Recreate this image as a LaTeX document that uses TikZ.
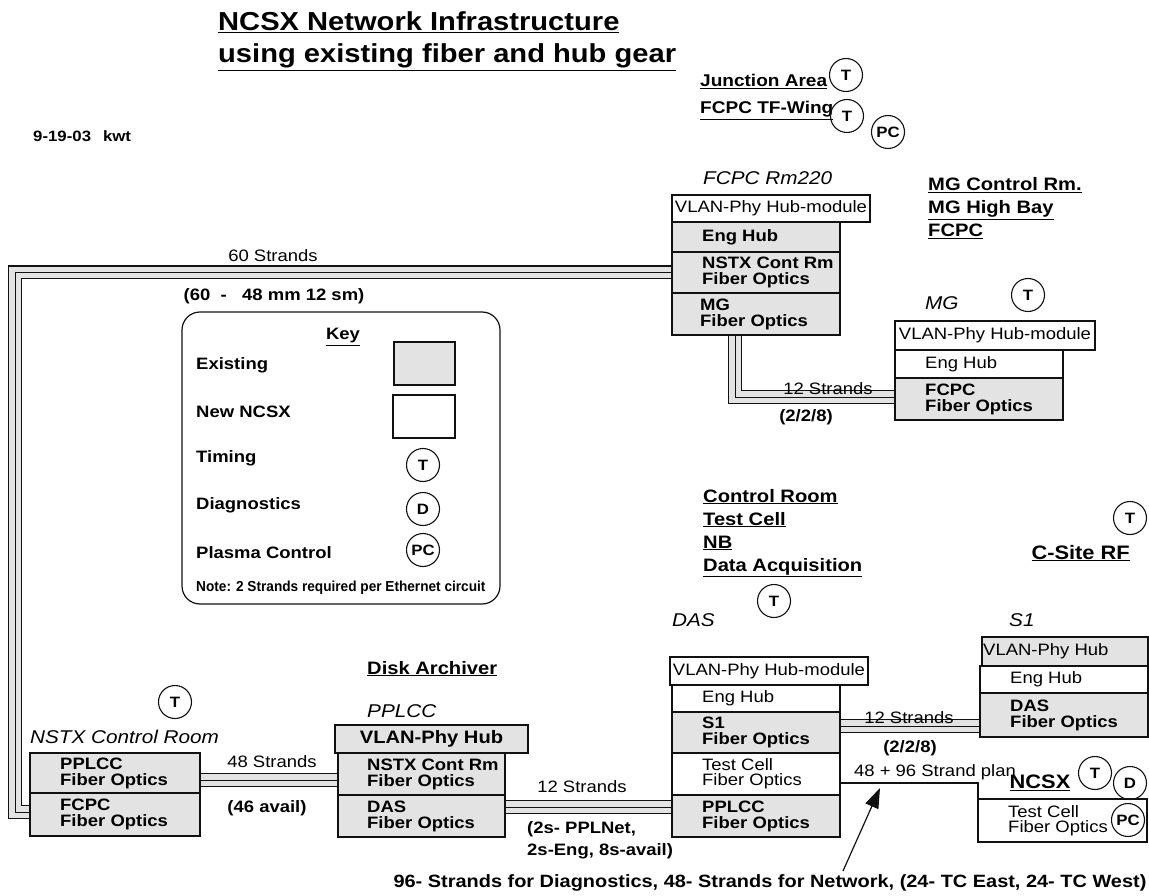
\documentclass[tikz,border=0pt]{standalone}
\usepackage{fontspec}
\setmainfont[FakeStretch=1.12]{Liberation Sans}
\usepackage{graphicx}
\usepackage{tikz}
\usetikzlibrary{arrows.meta,positioning,backgrounds}
\definecolor{NcsxInk}{HTML}{111111}
\definecolor{NcsxShade}{HTML}{E3E3E3}
\newcommand{\bodysize}{\fontsize{16.5}{16}\selectfont}
\newcommand{\thinsize}{\fontsize{16.5}{15}\selectfont}
\newcommand{\placesize}{\fontsize{18.5}{20}\selectfont}
\newcommand{\headsize}{\fontsize{18}{23}\selectfont}

\begin{document}
\begin{tikzpicture}[x=1pt,y=-1pt,
    every node/.style={inner sep=0pt},
    rowbox/.style={draw=NcsxInk,line width=1.2pt,outer sep=0pt,anchor=north west},
    existbox/.style={rowbox,fill=NcsxShade},
    newbox/.style={rowbox,fill=white},
    rowtxt/.style={align=left,font=\bodysize\bfseries},
    thintxt/.style={align=left,font=\thinsize},
    place/.style={anchor=west,font=\placesize\itshape},
    site/.style={anchor=base west,font=\headsize\bfseries},
    keytxt/.style={anchor=west,font=\bodysize\bfseries},
    strands/.style={font=\bodysize},
    mix/.style={font=\bodysize\bfseries},
    sig/.style={circle,draw=NcsxInk,line width=1.1pt,minimum size=33pt,
      font=\fontsize{15}{15}\selectfont\bfseries},
    cable/.style={line width=14pt,draw=NcsxInk,
      postaction={draw=NcsxShade,line width=11.4pt},
      postaction={draw=NcsxInk,line width=0.9pt}},
    wire/.style={line width=1.2pt,draw=NcsxInk},
    arrow/.style={-{Triangle[length=20pt,width=14pt]},line width=1.2pt,draw=NcsxInk}
  ]
  \useasboundingbox (0,0) rectangle (1149,896);

  % title block
  \node[anchor=base west,font=\fontsize{26}{28}\selectfont\bfseries] (title) at (218,31)
    {\underline{NCSX Network Infrastructure}};
  \node[anchor=base west,font=\fontsize{26}{28}\selectfont\bfseries] (subtitle) at (218,63)
    {\underline{using existing fiber and hub gear}};
  \node[anchor=base west,font=\fontsize{15}{15}\selectfont\bfseries] (date) at (33,142)
    {9-19-03\hspace{0.8em}kwt};

  % FCPC Rm220
  \node[place] (rmplace) at (703,178) {FCPC Rm220};
  \node[newbox,minimum width=198pt,minimum height=27pt,font=\thinsize] (rmvlan) at (672,195) {VLAN-Phy Hub-module};
  \node[existbox,minimum width=168pt,minimum height=30pt,below=0pt of rmvlan.south west,anchor=north west] (rmeng) {};
  \node[existbox,minimum width=168pt,minimum height=41pt,below=0pt of rmeng.south west,anchor=north west] (rmnstx) {};
  \node[existbox,minimum width=168pt,minimum height=42pt,below=0pt of rmnstx.south west,anchor=north west] (rmmg) {};
  \node[rowtxt,right=30pt of rmeng.west] (rmengtxt) {Eng Hub};
  \node[rowtxt,right=30pt of rmnstx.west] (rmnstxtxt) {NSTX Cont Rm\\Fiber Optics};
  \node[rowtxt,right=28pt of rmmg.west] (rmmgtxt) {MG\\Fiber Optics};

  % MG
  \node[place] (mgplace) at (925,303) {MG};
  \node[sig] (mgt) at (1028,295) {T};
  \node[newbox,minimum width=200pt,minimum height=29pt,font=\thinsize] (mgvlan) at (895,321) {VLAN-Phy Hub-module};
  \node[newbox,minimum width=168pt,minimum height=28pt,below=0pt of mgvlan.south west,anchor=north west] (mgeng) {};
  \node[existbox,minimum width=168pt,minimum height=42pt,below=0pt of mgeng.south west,anchor=north west] (mgfcpc) {};
  \node[thintxt,right=30pt of mgeng.west] (mgengtxt) {Eng Hub};
  \node[rowtxt,right=30pt of mgfcpc.west] (mgfcpctxt) {FCPC\\Fiber Optics};

  % NSTX control room
  \node[sig] (crt) at (175,702) {T};
  \node[place] (crplace) at (30,737) {NSTX Control Room};
  \node[existbox,minimum width=170pt,minimum height=40pt] (crpplcc) at (30,753) {};
  \node[existbox,minimum width=170pt,minimum height=43pt,below=0pt of crpplcc.south west,anchor=north west] (crfcpc) {};
  \node[rowtxt,right=30pt of crpplcc.west] (crpplcctxt) {PPLCC\\Fiber Optics};
  \node[rowtxt,right=30pt of crfcpc.west] (crfcpctxt) {FCPC\\Fiber Optics};

  % PPLCC disk archiver
  \node[site] (diskarch) at (367,674) {\underline{Disk Archiver}};
  \node[place] (ppplace) at (367,711) {PPLCC};
  \node[existbox,minimum width=193pt,minimum height=28pt,font=\fontsize{18}{18}\selectfont\bfseries] (ppvlan) at (335,725) {VLAN-Phy Hub};
  \node[existbox,minimum width=167pt,minimum height=42pt,below=0pt of ppvlan.south west,anchor=north west,xshift=3pt] (ppnstx) {};
  \node[existbox,minimum width=167pt,minimum height=42pt,below=0pt of ppnstx.south west,anchor=north west] (ppdas) {};
  \node[rowtxt,right=29pt of ppnstx.west] (ppnstxtxt) {NSTX Cont Rm\\Fiber Optics};
  \node[rowtxt,right=29pt of ppdas.west] (ppdastxt) {DAS\\Fiber Optics};

  % DAS
  \node[site] (ctlroom) at (703,502) {\underline{Control Room}};
  \node[site] (testcell) at (703,525) {\underline{Test Cell}};
  \node[site] (nbsite) at (703,548) {\underline{NB}};
  \node[site] (daqsite) at (703,571) {\underline{Data Acquisition}};
  \node[sig] (daqt) at (774,601) {T};
  \node[place] (dasplace) at (672,620) {DAS};
  \node[newbox,minimum width=198pt,minimum height=28pt,font=\thinsize] (dasvlan) at (670,657) {VLAN-Phy Hub-module};
  \node[newbox,minimum width=168pt,minimum height=27pt,below=0pt of dasvlan.south west,anchor=north west,xshift=2pt] (daseng) {};
  \node[existbox,minimum width=168pt,minimum height=41pt,below=0pt of daseng.south west,anchor=north west] (dass1) {};
  \node[newbox,minimum width=168pt,minimum height=42pt,below=0pt of dass1.south west,anchor=north west] (dastc) {};
  \node[existbox,minimum width=168pt,minimum height=42pt,below=0pt of dastc.south west,anchor=north west] (daspplcc) {};
  \node[thintxt,right=30pt of daseng.west] (dasengtxt) {Eng Hub};
  \node[rowtxt,right=30pt of dass1.west] (dass1txt) {S1\\Fiber Optics};
  \node[thintxt,right=30pt of dastc.west] (dastctxt) {Test Cell\\Fiber Optics};
  \node[rowtxt,right=30pt of daspplcc.west] (daspplcctxt) {PPLCC\\Fiber Optics};

  % S1 and C-Site RF
  \node[sig] (rft) at (1130,518) {T};
  \node[site,anchor=base east,font=\fontsize{19.5}{23}\selectfont\bfseries] (rfsite) at (1130,559) {\underline{C-Site RF}};
  \node[place] (s1place) at (1009,620) {S1};
  \node[existbox,minimum width=166pt,minimum height=29pt] (s1vlan) at (982,637) {};
  \node[newbox,minimum width=168pt,minimum height=27pt,below=0pt of s1vlan.south west,anchor=north west,xshift=-2pt] (s1eng) {};
  \node[existbox,minimum width=168pt,minimum height=44pt,below=0pt of s1eng.south west,anchor=north west] (s1das) {};
  \node[thintxt,right=1pt of s1vlan.west] (s1vlantxt) {VLAN-Phy Hub};
  \node[thintxt,right=30pt of s1eng.west] (s1engtxt) {Eng Hub};
  \node[rowtxt,right=30pt of s1das.west] (s1dastxt) {DAS\\Fiber Optics};

  % NCSX test cell
  \node[font=\fontsize{19.5}{20}\selectfont\bfseries] (ncsxsite) at (1040,783) {\underline{NCSX}};
  \node[newbox,minimum width=169pt,minimum height=43pt] (ncsxtc) at (978,799) {};
  \node[thintxt,right=30pt of ncsxtc.west] (ncsxtctxt) {Test Cell\\Fiber Optics};
  \node[sig] (ncsxt) at (1095,773) {T};
  \node[sig] (ncsxd) at (1130,783) {D};
  \node[sig] (ncsxpc) at (1128,820) {PC};

  % junction area and MG sites
  \node[site,font=\fontsize{17}{23}\selectfont\bfseries] (junction) at (700,87) {\underline{Junction Area}};
  \node[site,font=\fontsize{17}{23}\selectfont\bfseries] (tfwing) at (700,114) {\underline{FCPC TF-Wing}};
  \node[sig] (junctiont) at (846,75) {T};
  \node[sig] (tfwingt) at (847,116) {T};
  \node[sig] (tfwingpc) at (888,132) {PC};
  \node[site] (mgctl) at (928,191) {\underline{MG Control Rm.}};
  \node[site] (mgbay) at (928,214) {\underline{MG High Bay}};
  \node[site] (mgfc) at (928,237) {\underline{FCPC}};

  % key
  \node[rowbox,rounded corners=18pt,minimum width=318pt,minimum height=292pt,fill=white] (keybox) at (182,312) {};
  \node[mix] (keyhead) at (343,337) {\underline{Key}};
  \node[keytxt] (keyexist) at (196,365) {Existing};
  \node[keytxt] (keyncsx) at (196,412) {New NCSX};
  \node[keytxt] (keytiming) at (196,458) {Timing};
  \node[keytxt] (keydiag) at (196,505) {Diagnostics};
  \node[keytxt] (keyplasma) at (196,553) {Plasma Control};
  \node[existbox,minimum width=61pt,minimum height=43pt] (keyold) at (394,342) {};
  \node[newbox,minimum width=62pt,minimum height=43pt] (keynew) at (393,395) {};
  \node[sig] (keyt) at (423,465) {T};
  \node[sig] (keyd) at (423,509) {D};
  \node[sig] (keypc) at (423,550) {PC};
  \node[keytxt] (keynote) at (196,588)
    {\scalebox{0.84}[1]{\fontsize{14.5}{15}\selectfont Note: 2 Strands required per Ethernet circuit}};

  % fiber runs
  \begin{scope}[on background layer]
    \coordinate (ltop) at (15,272);
    \coordinate (lbot) at (15,812);
    \draw[cable] (rmnstx.west) -- (rmnstx.west -| ltop) -- (lbot) -- (lbot -| crfcpc.west);
    \coordinate (mgbend) at (735,397);
    \draw[cable] (rmmg.south -| mgbend) -- (mgbend) -- (mgbend -| mgfcpc.west);
    \draw[cable] ([yshift=-7pt]crpplcc.east) -- ([yshift=-7pt]crpplcc.east -| ppnstx.west);
    \draw[cable] ([yshift=9pt]ppdas.east) -- ([yshift=9pt]ppdas.east -| daspplcc.west);
    \coordinate (s1cab) at (910,726);
    \draw[cable] (dass1.east |- s1cab) -- (s1das.west |- s1cab);
  \end{scope}

  \node[strands] (sixtylbl) at (273,256) {60 Strands};
  \node[mix] (sixtymix) at (274,296) {(60\ \ -\ \ \ 48 mm 12 sm)};
  \node[strands] (mgcablbl) at (828,389) {12 Strands};
  \node[mix] (mgcabmix) at (806,417) {(2/2/8)};
  \node[strands] (crcablbl) at (272,762) {48 Strands};
  \node[mix] (crcabmix) at (267,808) {(46 avail)};
  \node[strands] (ppcablbl) at (582,787) {12 Strands};
  \node[mix,align=left,anchor=north west,font=\fontsize{16.5}{22}\selectfont\bfseries] (ppcabmix) at (527,821)
    {(2s- PPLNet,\\2s-Eng, 8s-avail)};
  \node[strands] (s1cablbl) at (909,718) {12 Strands};
  \node[mix] (s1cabmix) at (910,748) {(2/2/8)};
  \node[strands] (planlbl) at (935,772) {48 + 96 Strand plan};

  % 48 + 96 plan
  \coordinate (planline) at (900,783);
  \draw[wire] (dastc.east |- planline) -| (ncsxtc.north west);
  \node[font=\fontsize{17.8}{18}\selectfont\bfseries] (bottomnote) at (770,883)
    {96- Strands for Diagnostics, 48- Strands for Network, (24- TC East, 24- TC West)};
  \coordinate (arrowtail) at (843,871);
  \coordinate (plantip) at (880,788);
  \draw[arrow] (arrowtail) -- (plantip);
\end{tikzpicture}
\end{document}
